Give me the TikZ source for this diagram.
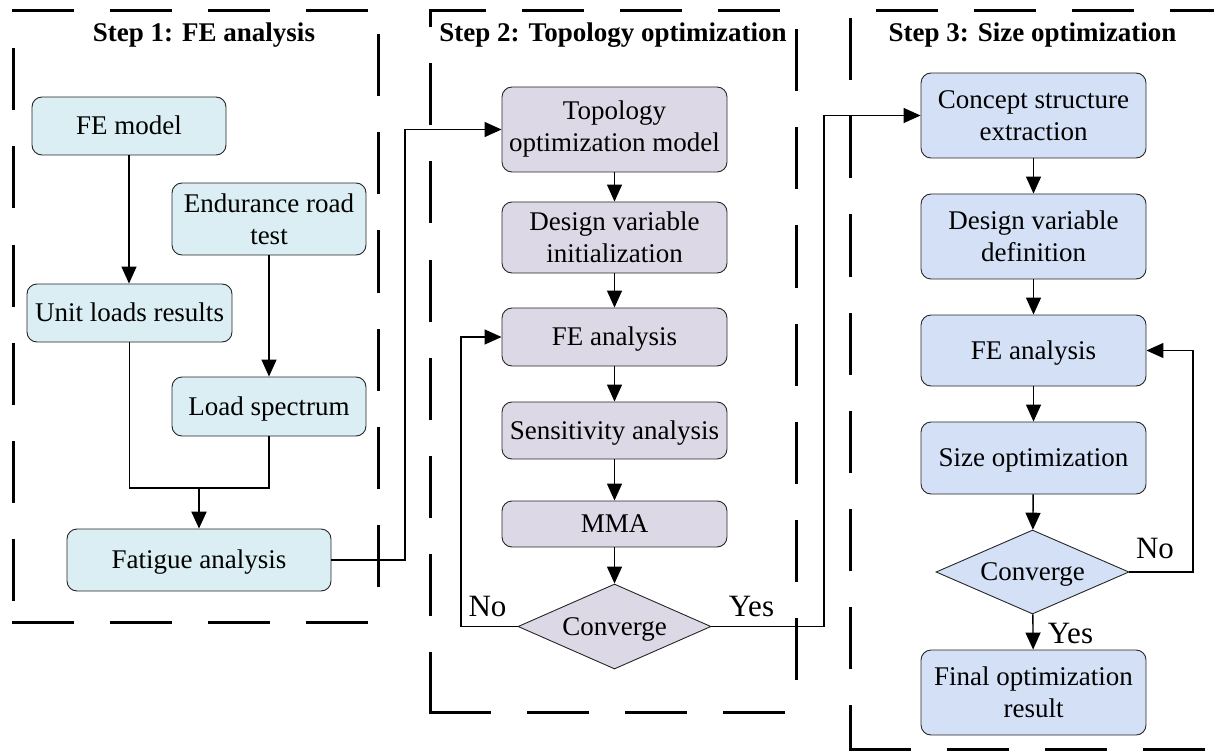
\documentclass[tikz,border=0pt]{standalone}
\usepackage{fontspec}
\setmainfont{Liberation Serif}
\usetikzlibrary{arrows.meta,shapes.geometric}
\definecolor{cA}{HTML}{DAEEF3}
\definecolor{cB}{HTML}{DDD8E5}
\definecolor{cC}{HTML}{D3E0F6}
\begin{document}
\begin{tikzpicture}[x=1pt,y=-1pt,
 every node/.style={font=\fontsize{27}{32}\selectfont},
 box/.style={draw=black!85, line width=0.9pt, rounded corners=10pt, align=center, inner sep=0pt},
 one/.style={text height=17.9pt, text depth=0pt},
 dbox/.style={draw=black, line width=3pt, line cap=rect, dash pattern=on 59pt off 39pt},
 arr/.style={line width=1.4pt, -{Triangle[length=17pt,width=15pt]}},
 ln/.style={line width=1.4pt},
 dec/.style={diamond, draw=black!85, line width=0.9pt, inner sep=0pt, aspect=2.27, minimum width=193pt, minimum height=85pt},
 ttl/.style={font=\fontsize{27}{32}\selectfont\bfseries, text height=17.9pt, text depth=0pt},
 lbl/.style={font=\fontsize{31}{34}\selectfont, text height=20.5pt, text depth=0pt, inner sep=0pt}
]
\useasboundingbox (0,0) rectangle (1214,751);

% dashed step frames (each edge its own dash phase)
\draw[dbox] (13,11) -- (378,11);
\draw[dbox, dash phase=73pt] (378,11) -- (378,622);
\draw[dbox, dash phase=59pt] (13,11) -- (13,622);
\draw[dbox] (13,622) -- (378,622);

\draw[dbox, dash phase=80pt] (796,11) -- (430,11);
\draw[dbox] (430,712) -- (430,11);
\draw[dbox] (430,712) -- (796,712);
\draw[dbox, dash phase=78pt] (796,11) -- (796,712);

\draw[dbox, dash phase=71pt] (850,11) -- (1214,11);
\draw[dbox, dash phase=89pt] (850,11) -- (850,749);
\draw[dbox] (850,749) -- (1214,749);
\draw[dbox, dash phase=42pt] (1215,11) -- (1215,749);

% titles
\node[ttl] (t1) at (204,33) {Step 1: FE analysis};
\node[ttl] (t2) at (613,33) {Step 2: Topology optimization};
\node[ttl] (t3) at (1032.5,33) {Step 3: Size optimization};

% step 1
\node[box, one, fill=cA, minimum width=194pt, minimum height=58pt] (fem) at (129,126) {FE model};
\node[box, fill=cA, minimum width=194pt, minimum height=72pt] (ert) at (269,219) {Endurance road\\test};
\node[box, one, fill=cA, minimum width=205pt, minimum height=58pt] (ulr) at (129.5,313) {Unit loads results};
\node[box, one, fill=cA, minimum width=194pt, minimum height=59pt] (lsp) at (269,406.5) {Load spectrum};
\node[box, one, fill=cA, minimum width=264pt, minimum height=62pt] (fat) at (199,560) {Fatigue analysis};

% step 2
\node[box, fill=cB, minimum width=225pt, minimum height=85pt] (topo) at (614.5,129.5) {Topology\\optimization model};
\node[box, fill=cB, minimum width=225pt, minimum height=71pt] (dvi) at (614.5,237.5) {Design variable\\initialization};
\node[box, one, fill=cB, minimum width=225pt, minimum height=58pt] (fe2) at (614.5,337) {FE analysis};
\node[box, one, fill=cB, minimum width=225pt, minimum height=57pt] (sen) at (614.5,430.5) {Sensitivity analysis};
\node[box, one, fill=cB, minimum width=225pt, minimum height=46pt] (mma) at (614.5,524) {MMA};
\node[dec, one, fill=cB] (cv2) at (614.5,626.5) {Converge};

% step 3
\node[box, fill=cC, minimum width=225pt, minimum height=85pt] (cse) at (1033.5,115.5) {Concept structure\\extraction};
\node[box, fill=cC, minimum width=225pt, minimum height=85pt] (dvd) at (1033.5,236.5) {Design variable\\definition};
\node[box, one, fill=cC, minimum width=225pt, minimum height=71pt] (fe3) at (1033.5,350.5) {FE analysis};
\node[box, one, fill=cC, minimum width=225pt, minimum height=72pt] (sop) at (1033.5,458) {Size optimization};
\node[dec, one, fill=cC, minimum height=84pt] (cv3) at (1032.5,572) {Converge};
\node[box, fill=cC, minimum width=225pt, minimum height=85pt] (fin) at (1033.5,692.5) {Final optimization\\result};

% helper coordinates
\coordinate (j1) at (405,0);
\coordinate (j2) at (461,0);
\coordinate (j3) at (824,0);
\coordinate (j4) at (1193,0);
\coordinate (m1) at (199,488);

% step 1 connectors
\draw[arr] (fem.south) -- (fem.south |- ulr.north);
\draw[arr] (ert.south) -- (lsp.north);
\draw[ln] (ulr.south) |- (m1) -| (lsp.south);
\draw[arr, line width=2.2pt] (m1) -- (fat.north);
\draw[arr] (fat.east) -- (fat.east -| j1) |- (topo.west);

% step 2 connectors
\draw[arr] (topo) -- (dvi);
\draw[arr] (dvi) -- (fe2);
\draw[arr] (fe2) -- (sen);
\draw[arr] (sen) -- (mma);
\draw[arr] (mma) -- (cv2);
\draw[arr] (cv2.west) -- (cv2.west -| j2) |- (fe2.west);
\draw[arr] (cv2.east) -- (cv2.east -| j3) |- (cse.west);

% step 3 connectors
\draw[arr] (cse) -- (dvd);
\draw[arr] (dvd) -- (fe3);
\draw[arr] (fe3) -- (sop);
\draw[arr] (sop) -- (cv3);
\draw[arr] (cv3) -- (fin);
\draw[arr] (cv3.east) -- (cv3.east -| j4) |- (fe3.east);

% labels
\node[lbl] (no2) at (487.5,606.5) {No};
\node[lbl] (yes2) at (751.5,606.5) {Yes};
\node[lbl] (no3) at (1155,548.5) {No};
\node[lbl] (yes3) at (1070.5,633.5) {Yes};
\end{tikzpicture}
\end{document}
